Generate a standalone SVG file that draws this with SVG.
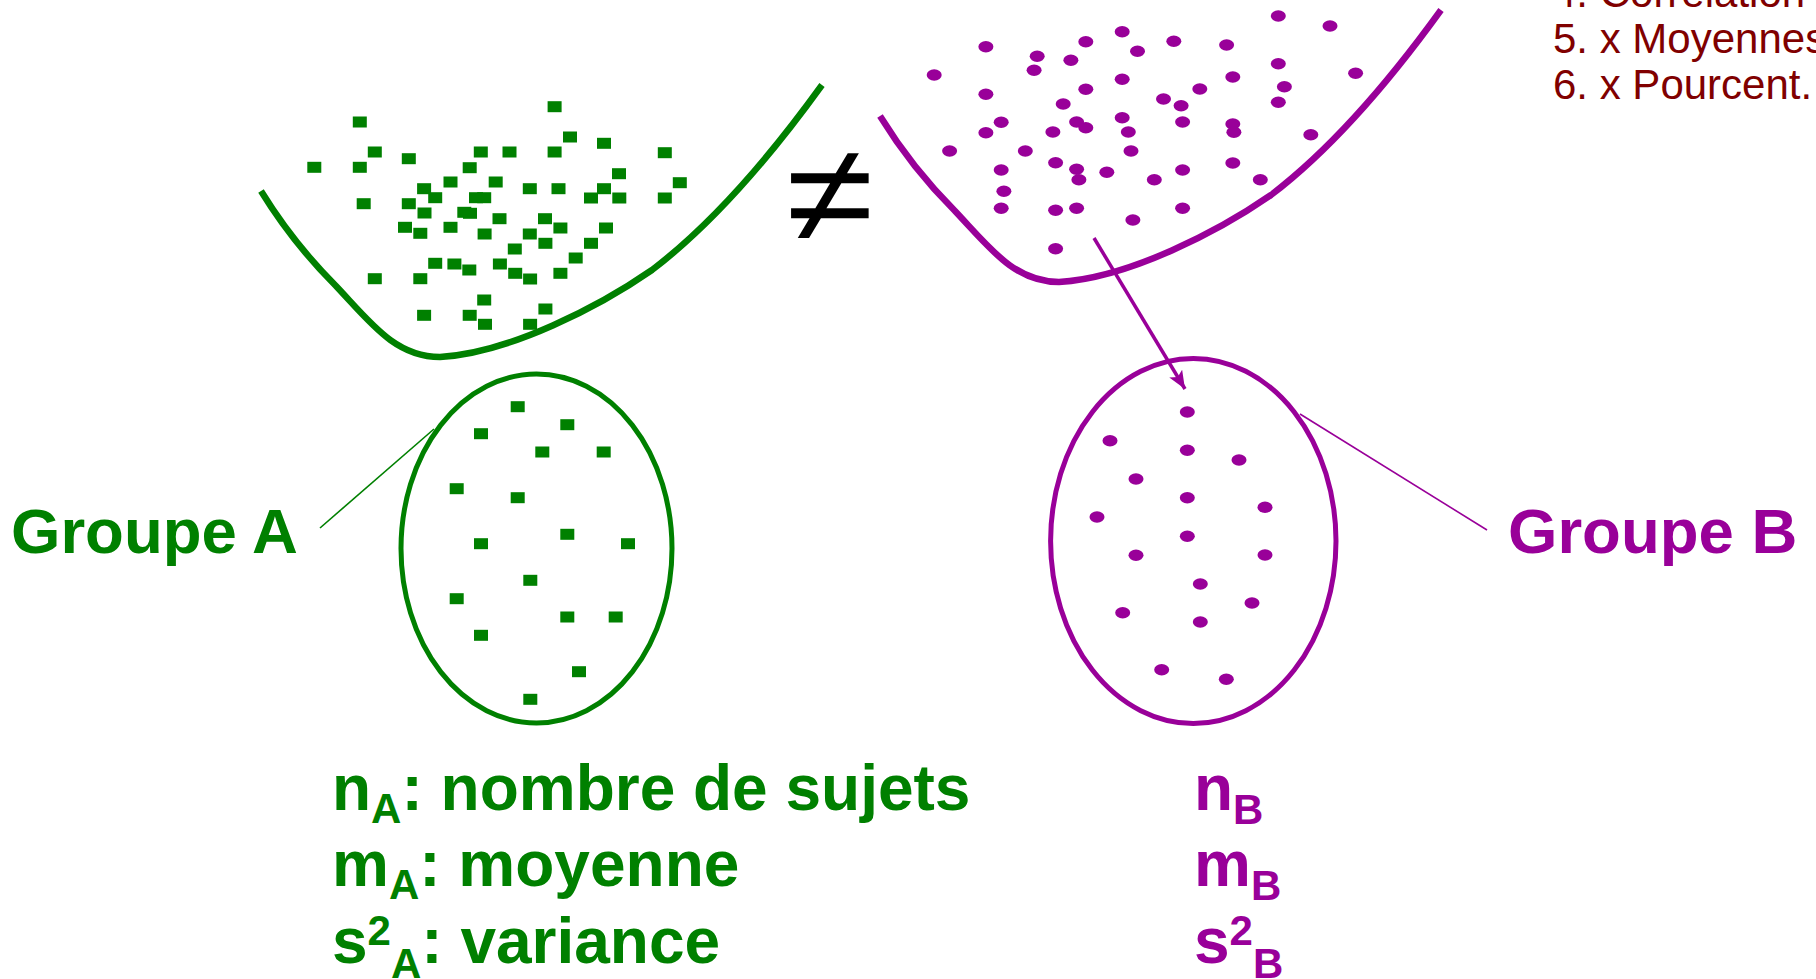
<svg xmlns="http://www.w3.org/2000/svg" xmlns:xlink="http://www.w3.org/1999/xlink" width="1816" height="979" viewBox="0 0 1816 979">
<style>
.t{font-family:"Liberation Sans",Arial,Helvetica,sans-serif}
.b{font-weight:bold}
.gf{fill:#008000}
.pf{fill:#990099}
.gs{fill:none;stroke:#008000}
.ps{fill:none;stroke:#990099}
.menu{fill:#800000;font-size:42px}
</style>
<defs>
<rect id="sq" x="-7" y="-5.5" width="14" height="11" fill="#008000"/>
<ellipse id="dt" cx="0" cy="0" rx="7.5" ry="5.7" fill="#990099"/>
<path id="bowl" d="M261,191 C285,230 310,260 336,286 C370,322 395,357 440,357 C510,353 600,306 652,270 C715,222 775,150 822,85"/>
<marker id="ah" markerUnits="userSpaceOnUse" markerWidth="20" markerHeight="16" refX="18" refY="7.5" orient="auto">
<path d="M0,0 L18,7.5 L0,15 L4,7.5 z" fill="#990099"/>
</marker>
</defs>
<rect x="0" y="0" width="1816" height="979" fill="#ffffff"/>

<g id="menu" class="t menu">
<text x="1553" y="7">4. Corrélation</text>
<text x="1553" y="53">5. x Moyennes</text>
<text x="1553" y="99">6. x Pourcent.</text>
</g>

<g id="populationA">
<use href="#bowl" class="gs" stroke-width="6.5"/>
<g>
<use href="#sq" x="554.6" y="106.7"/><use href="#sq" x="359.8" y="122"/><use href="#sq" x="570" y="137"/><use href="#sq" x="604" y="143.3"/>
<use href="#sq" x="374.8" y="152"/><use href="#sq" x="408.8" y="158.7"/><use href="#sq" x="480.8" y="152"/><use href="#sq" x="509.5" y="152"/>
<use href="#sq" x="554.6" y="152"/><use href="#sq" x="664.8" y="152.7"/><use href="#sq" x="314.3" y="167.3"/><use href="#sq" x="359.8" y="167.3"/>
<use href="#sq" x="469.7" y="167.7"/><use href="#sq" x="619" y="173.7"/><use href="#sq" x="450.5" y="182"/><use href="#sq" x="495.7" y="182"/>
<use href="#sq" x="679.8" y="182.7"/><use href="#sq" x="424.1" y="188.7"/><use href="#sq" x="529.8" y="188.7"/><use href="#sq" x="558.5" y="188.7"/>
<use href="#sq" x="604" y="188.7"/><use href="#sq" x="363.7" y="203.7"/><use href="#sq" x="408.8" y="203.7"/><use href="#sq" x="435.2" y="197.7"/>
<use href="#sq" x="476" y="197.7"/><use href="#sq" x="484.2" y="197.7"/><use href="#sq" x="591" y="198"/><use href="#sq" x="619.3" y="198"/>
<use href="#sq" x="664.8" y="198"/><use href="#sq" x="424.5" y="213"/><use href="#sq" x="464.3" y="212.3"/><use href="#sq" x="470" y="213.3"/>
<use href="#sq" x="499.5" y="218.7"/><use href="#sq" x="545" y="218.7"/><use href="#sq" x="405" y="227.3"/><use href="#sq" x="450.5" y="227.3"/>
<use href="#sq" x="420.3" y="233.3"/><use href="#sq" x="484.6" y="234"/><use href="#sq" x="529.8" y="234"/><use href="#sq" x="560.4" y="228"/>
<use href="#sq" x="606" y="228"/><use href="#sq" x="545.4" y="243.3"/><use href="#sq" x="591" y="243.3"/><use href="#sq" x="514.8" y="249"/>
<use href="#sq" x="575.7" y="258"/><use href="#sq" x="435.2" y="263.3"/><use href="#sq" x="454.4" y="264"/><use href="#sq" x="469.3" y="270"/>
<use href="#sq" x="499.9" y="264"/><use href="#sq" x="515.2" y="273.3"/><use href="#sq" x="530.1" y="279"/><use href="#sq" x="560.4" y="273.3"/>
<use href="#sq" x="374.8" y="278.7"/><use href="#sq" x="420.3" y="278.7"/><use href="#sq" x="484.2" y="300"/><use href="#sq" x="545.4" y="309"/>
<use href="#sq" x="424.1" y="315.3"/><use href="#sq" x="469.7" y="315.3"/><use href="#sq" x="485" y="324.3"/><use href="#sq" x="530.1" y="324.3"/>
</g>
</g>

<g id="populationB">
<use href="#bowl" class="ps" stroke-width="6.5" transform="translate(619,-75)"/>
<g>
<use href="#dt" x="1278.3" y="16"/><use href="#dt" x="1330" y="26"/><use href="#dt" x="1122.2" y="31.7"/><use href="#dt" x="985.9" y="46.7"/>
<use href="#dt" x="1085.8" y="41.7"/><use href="#dt" x="1173.8" y="41.3"/><use href="#dt" x="1226.6" y="45"/><use href="#dt" x="1037.2" y="56.3"/>
<use href="#dt" x="1070.9" y="60.3"/><use href="#dt" x="1137.5" y="51.3"/><use href="#dt" x="1278.3" y="63.7"/><use href="#dt" x="934.2" y="75"/>
<use href="#dt" x="1034.1" y="70.3"/><use href="#dt" x="1122.2" y="79.3"/><use href="#dt" x="1232.8" y="77"/><use href="#dt" x="1355.6" y="73.3"/>
<use href="#dt" x="985.9" y="94.3"/><use href="#dt" x="1085.8" y="89.3"/><use href="#dt" x="1199.8" y="89"/><use href="#dt" x="1284.4" y="86.7"/>
<use href="#dt" x="1163.5" y="99"/><use href="#dt" x="1181.1" y="105.7"/><use href="#dt" x="1278.3" y="102.3"/><use href="#dt" x="1063.2" y="104"/>
<use href="#dt" x="1001.2" y="122.3"/><use href="#dt" x="1076.6" y="122"/><use href="#dt" x="1085.8" y="127.7"/><use href="#dt" x="1122.2" y="117.7"/>
<use href="#dt" x="1182.6" y="122"/><use href="#dt" x="1232.8" y="124"/><use href="#dt" x="1233.9" y="132.3"/><use href="#dt" x="985.9" y="132.7"/>
<use href="#dt" x="1052.9" y="132"/><use href="#dt" x="1128.3" y="132"/><use href="#dt" x="1310.8" y="134.7"/><use href="#dt" x="949.6" y="151"/>
<use href="#dt" x="1025.3" y="151"/><use href="#dt" x="1131" y="151"/><use href="#dt" x="1055.6" y="162.7"/><use href="#dt" x="1001.2" y="170"/>
<use href="#dt" x="1076.6" y="169.3"/><use href="#dt" x="1078.9" y="179.7"/><use href="#dt" x="1106.8" y="172.3"/><use href="#dt" x="1182.6" y="170"/>
<use href="#dt" x="1232.8" y="163"/><use href="#dt" x="1154.3" y="179.7"/><use href="#dt" x="1260.3" y="179.7"/><use href="#dt" x="1003.9" y="191.3"/>
<use href="#dt" x="1001.2" y="208.3"/><use href="#dt" x="1055.6" y="210.3"/><use href="#dt" x="1076.6" y="208.3"/><use href="#dt" x="1182.6" y="208.3"/>
<use href="#dt" x="1132.9" y="220"/><use href="#dt" x="1055.6" y="248.7"/>
</g>
</g>

<g id="neq">
<text class="t" x="830" y="242" font-size="140" text-anchor="middle" fill="#000000" transform="translate(830,0) scale(1.14,1) translate(-830,0)">≠</text>
</g>

<g id="sampleA">
<ellipse cx="536.5" cy="548.5" rx="135.5" ry="174.5" class="gs" stroke-width="5"/>
<use href="#sq" x="517.7" y="406.7"/><use href="#sq" x="567.3" y="424.7"/><use href="#sq" x="481" y="433.7"/><use href="#sq" x="542.3" y="452"/>
<use href="#sq" x="603.7" y="452"/><use href="#sq" x="456.7" y="488.7"/><use href="#sq" x="517.7" y="497.7"/><use href="#sq" x="567.3" y="534.3"/>
<use href="#sq" x="481" y="543.7"/><use href="#sq" x="628" y="543.7"/><use href="#sq" x="530.3" y="580.3"/><use href="#sq" x="456.7" y="598.7"/>
<use href="#sq" x="567.3" y="617"/><use href="#sq" x="615.7" y="617"/><use href="#sq" x="481" y="635.3"/><use href="#sq" x="579" y="671.7"/>
<use href="#sq" x="530.3" y="699.3"/>
</g>

<g id="sampleB">
<ellipse cx="1193.3" cy="541" rx="142.7" ry="182.5" class="ps" stroke-width="5"/>
<use href="#dt" x="1187.3" y="412"/><use href="#dt" x="1110" y="440.7"/><use href="#dt" x="1187.3" y="450.3"/><use href="#dt" x="1239" y="460"/>
<use href="#dt" x="1136" y="479"/><use href="#dt" x="1187.3" y="497.7"/><use href="#dt" x="1265" y="507.3"/><use href="#dt" x="1097" y="517"/>
<use href="#dt" x="1187.3" y="536.3"/><use href="#dt" x="1136" y="555.3"/><use href="#dt" x="1265" y="555"/><use href="#dt" x="1200.3" y="584"/>
<use href="#dt" x="1252" y="603"/><use href="#dt" x="1122.7" y="612.7"/><use href="#dt" x="1200.3" y="622"/><use href="#dt" x="1161.7" y="669.7"/>
<use href="#dt" x="1226.3" y="679.3"/>
</g>

<g id="labelA">
<text class="t b gf" x="11" y="553" font-size="63.5">Groupe A</text>
</g>
<g id="labelB">
<text class="t b pf" x="1508" y="553" font-size="63.5">Groupe B</text>
</g>

<g id="statsA" class="t b gf" font-size="64">
<text x="332" y="810">n<tspan font-size="42" dy="13">A</tspan><tspan dy="-13">: nombre de sujets</tspan></text>
<text x="332" y="886">m<tspan font-size="42" dy="13">A</tspan><tspan dy="-13">: moyenne</tspan></text>
<text x="332" y="963">s<tspan font-size="42" dy="-18">2</tspan><tspan font-size="42" dy="33">A</tspan><tspan dy="-15">: variance</tspan></text>
</g>

<g id="statsB" class="t b pf" font-size="64">
<text x="1194" y="810">n<tspan font-size="42" dy="14">B</tspan></text>
<text x="1194" y="886">m<tspan font-size="42" dy="14">B</tspan></text>
<text x="1194" y="963">s<tspan font-size="42" dy="-18">2</tspan><tspan font-size="42" dy="33">B</tspan></text>
</g>

<g id="connectors">
<line x1="320" y1="528" x2="434" y2="429" stroke="#008000" stroke-width="1.6"/>
<line x1="1300" y1="414" x2="1487" y2="530" stroke="#990099" stroke-width="1.6"/>
<line x1="1094" y1="238" x2="1185" y2="389" stroke="#990099" stroke-width="3.5" marker-end="url(#ah)"/>
</g>
</svg>
